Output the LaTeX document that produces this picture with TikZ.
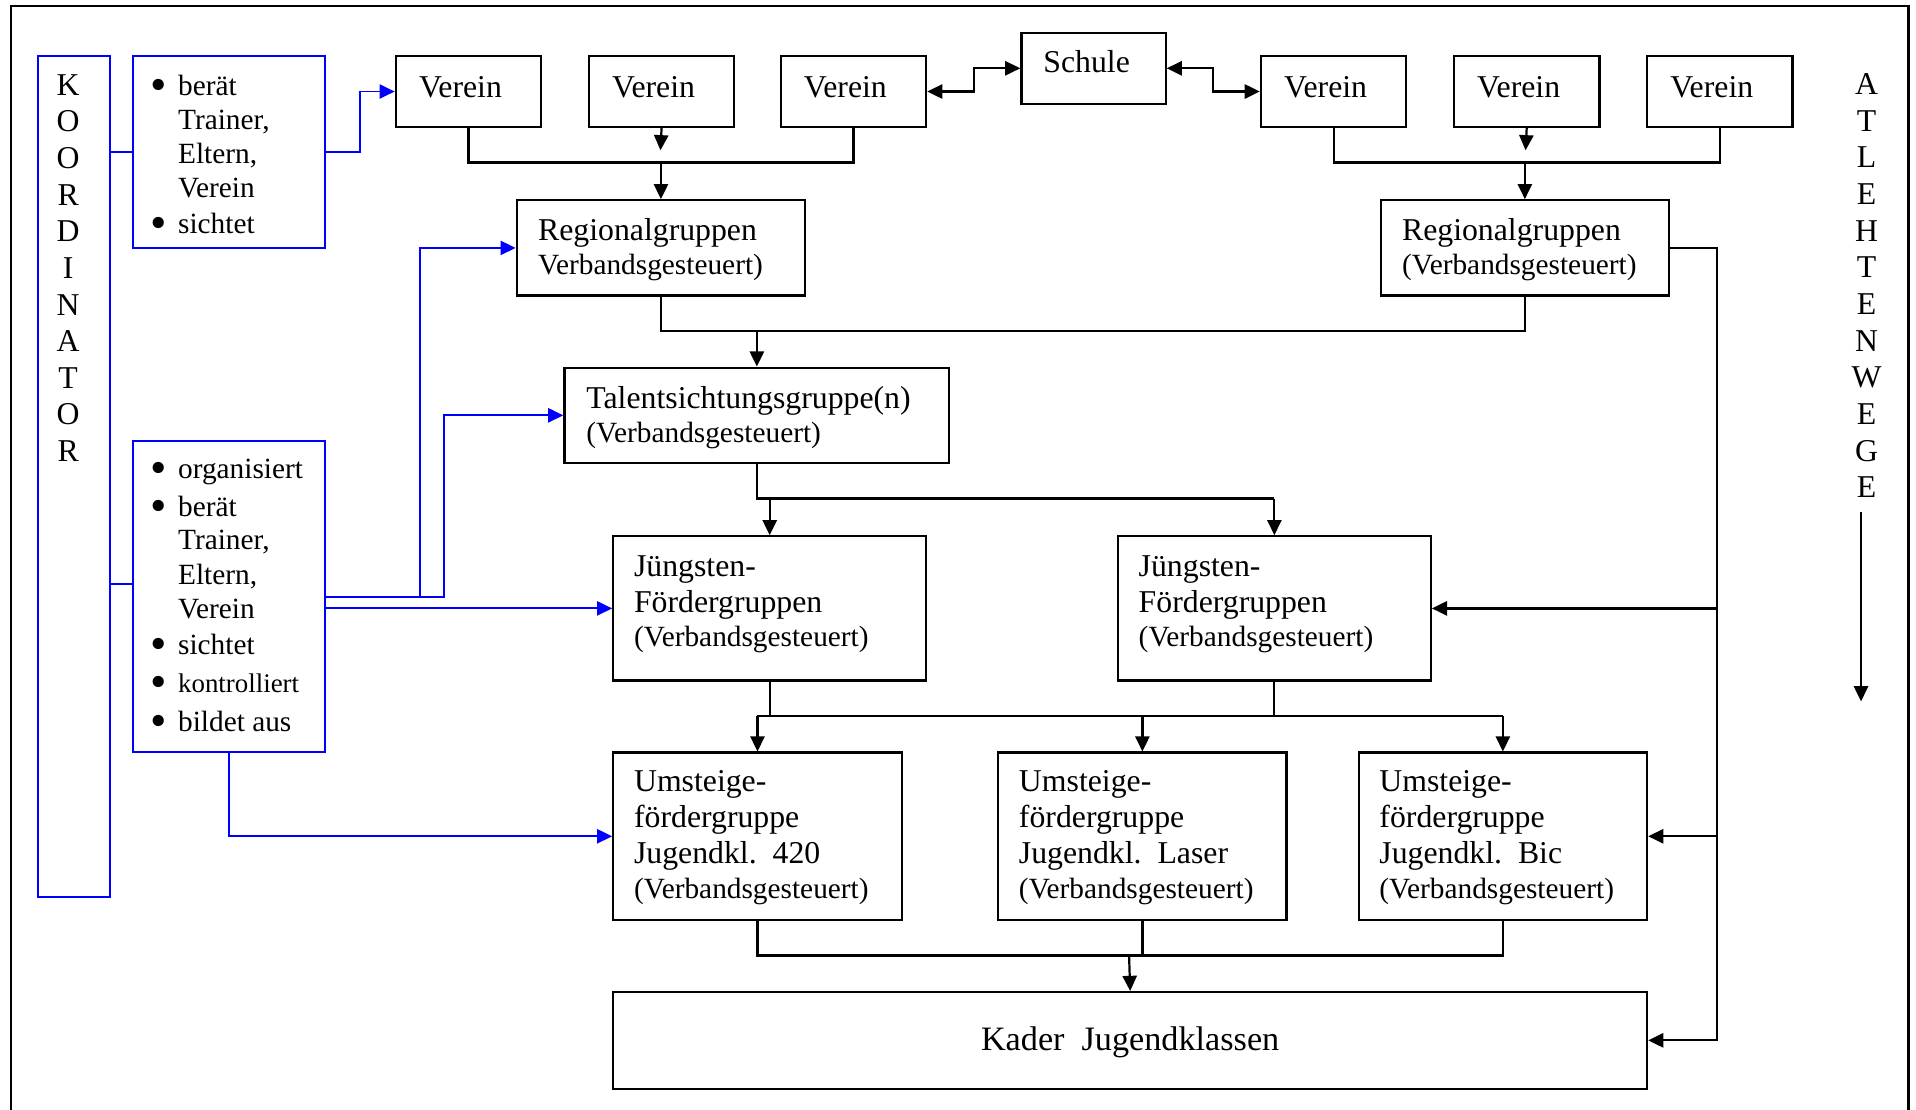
\documentclass[tikz,border=0pt]{standalone}
\usepackage{fontspec}
\setmainfont{Liberation Serif}
\usetikzlibrary{arrows.meta,calc}

\newcommand\bxt[5]{\parbox[c][#2][t]{#1}{\raggedright\leftskip=#3\relax\rule{0pt}{#4}#5}}
\newcommand\fmain{\fontsize{13}{14}\selectfont}
\newcommand\fsub{\fontsize{12}{14}\selectfont}
\newcommand\bul{\leavevmode\llap{\raisebox{-2.1pt}{\scalebox{1.6}{\fontsize{12}{14}\selectfont\textbullet}}\hspace{4.6pt}}}

\tikzset{
  box/.style={draw=black, line width=0.9pt, inner sep=0pt, anchor=north west, font=\fmain},
  bbox/.style={box, draw=blue, line width=0.8pt},
  conn/.style={draw=black, line width=0.9pt},
  arr/.style={conn, -{Triangle[length=6.2pt,width=5.8pt]}},
  darr/.style={conn, {Triangle[length=6.2pt,width=5.8pt]}-{Triangle[length=6.2pt,width=5.8pt]}},
  bconn/.style={draw=blue, line width=0.8pt},
  barr/.style={bconn, -{Triangle[length=6.2pt,width=5.8pt]}},
}

\begin{document}
\begin{tikzpicture}[x=0.5pt, y=-0.5pt]
\useasboundingbox (0,0) rectangle (1568,908);
\draw[line width=1pt] (9,920) -- (9,5) -- (1562,5) -- (1562,920);

% left blue boxes
\node[bbox] (koord) at (30,45) {\parbox[c][344pt][t]{29.5pt}{\centering\rightskip=4.5pt plus 1fil\relax\fontsize{13}{15}\selectfont\rule{0pt}{16pt}K\\O\\O\\R\\D\\I\\N\\A\\T\\O\\R}};
\node[bbox] (b1) at (108,45) {\bxt{78.5pt}{78.5pt}{18.5pt}{16pt}{\fontsize{12}{14}\selectfont\bul berät\\ Trainer,\\ Eltern,\\ Verein\\[0.5pt] \bul sichtet}};
\node[bbox] (b2) at (108,360) {\bxt{78.5pt}{127.5pt}{18.5pt}{15.5pt}{\fontsize{12}{13.75}\selectfont\bul organisiert\\[1.5pt] \bul berät\\ Trainer,\\[0.5pt] Eltern,\\ Verein\\[1pt] \bul sichtet\\[2pt] \bul{\fontsize{11}{13.75}\selectfont kontrolliert}\\[2pt] \bul bildet aus}};

% top row
\node[box] (v1) at (323,45) {\bxt{59.5pt}{29pt}{9.5pt}{16.8pt}{Verein}};
\node[box] (v2) at (481,45) {\bxt{59.5pt}{29pt}{9.5pt}{16.8pt}{Verein}};
\node[box] (v3) at (638,45) {\bxt{59.5pt}{29pt}{9.5pt}{16.8pt}{Verein}};
\node[box] (schule) at (835,26) {\bxt{59pt}{29pt}{9pt}{16.4pt}{Schule}};
\node[box] (v4) at (1031,45) {\bxt{59.5pt}{29pt}{9.5pt}{16.8pt}{Verein}};
\node[box] (v5) at (1189,45) {\bxt{59.5pt}{29pt}{9.5pt}{16.8pt}{Verein}};
\node[box] (v6) at (1347,45) {\bxt{59.5pt}{29pt}{9.5pt}{16.8pt}{Verein}};

% regional
\node[box] (r1) at (422,163) {\bxt{118pt}{39pt}{8.75pt}{16.5pt}{Regionalgruppen\\ {\fsub Verbandsgesteuert)}}};
\node[box] (r2) at (1129,163) {\bxt{118pt}{39pt}{8.75pt}{16.5pt}{Regionalgruppen\\ {\fsub (Verbandsgesteuert)}}};

% talent
\node[box] (talent) at (461,300) {\bxt{157.5pt}{39pt}{9pt}{16.5pt}{Talentsichtungsgruppe(n)\\ {\fsub (Verbandsgesteuert)}}};

% juengsten
\node[box] (j1) at (501,438) {\bxt{128pt}{59pt}{8.5pt}{16.25pt}{Jüngsten-\\[1pt] Fördergruppen\\ {\fsub (Verbandsgesteuert)}}};
\node[box] (j2) at (914,438) {\bxt{128pt}{59pt}{8.5pt}{16.25pt}{Jüngsten-\\[1pt] Fördergruppen\\ {\fsub (Verbandsgesteuert)}}};

% umsteige
\node[box] (u1) at (501,615) {\bxt{118pt}{68.5pt}{8.5pt}{16pt}{Umsteige-\\[0.5pt] fördergruppe\\[1pt] Jugendkl.\ \ 420\\ {\fsub (Verbandsgesteuert)}}};
\node[box] (u2) at (816,615) {\bxt{118pt}{68.5pt}{8.5pt}{16pt}{Umsteige-\\[0.5pt] fördergruppe\\[1pt] Jugendkl.\ \ Laser\\ {\fsub (Verbandsgesteuert)}}};
\node[box] (u3) at (1111,615) {\bxt{118pt}{68.5pt}{8.5pt}{16pt}{Umsteige-\\[0.5pt] fördergruppe\\[1pt] Jugendkl.\ \ Bic\\ {\fsub (Verbandsgesteuert)}}};

% kader
\node[box] (kader) at (501,811) {\parbox[c][39.5pt][t]{423pt}{\centering\fontsize{14}{16}\selectfont\rule{0pt}{24pt}Kader\ \ Jugendklassen}};

% right vertical text
\node[inner sep=0pt, anchor=north, font=\fmain] (athl) at (1527.5,45) {\parbox[t]{20pt}{\centering\fontsize{13}{15}\selectfont\rule{0pt}{16pt}A\\T\\L\\E\\H\\T\\E\\N\\W\\E\\G\\E}};
\coordinate (aw) at (1523,574);
\draw[arr] ([yshift=-5.5pt]athl.south -| aw) -- (aw);

% black connectors
\coordinate (busA) at (540.5,133);
\draw[conn] (v1.south) |- (busA) -| (v3.south);
\draw[arr] (v2.south) -- ($(busA)+(0,-10)$);
\draw[arr] (r1.north |- busA) -- (r1.north);

\coordinate (busB) at (1248.5,133);
\draw[conn] (v4.south) |- (busB) -| (v6.south);
\draw[arr] (v5.south) -- ($(busB)+(0,-10)$);
\draw[arr] (r2.north |- busB) -- (r2.north);

\draw[darr] (v3.east) -| ($(v3.east)!0.5!(schule.west)$) |- (schule.west);
\draw[darr] (schule.east) -| ($(schule.east)!0.5!(v4.west)$) |- (v4.west);

\coordinate (busC) at (618.5,271);
\draw[conn] (r1.south) |- (busC) -| (r2.south);
\draw[arr] (talent.north |- busC) -- (talent.north);

\coordinate (busD) at (0,408);
\draw[conn] (talent.south) |- (j2.north |- busD);
\draw[arr] (j1.north |- busD) -- (j1.north);
\draw[arr] (j2.north |- busD) -- (j2.north);

\coordinate (busE) at (0,586);
\draw[conn] (j1.south) -- (j1.south |- busE);
\draw[conn] (j2.south) -- (j2.south |- busE);
\draw[conn] (u1.north |- busE) -- (u3.north |- busE);
\draw[arr] (u1.north |- busE) -- (u1.north);
\draw[arr] (u2.north |- busE) -- (u2.north);
\draw[arr] (u3.north |- busE) -- (u3.north);

\coordinate (busF) at (924,782);
\draw[conn] (u1.south) |- (busF) -| (u3.south);
\draw[conn] (u2.south) -- (u2.south |- busF);
\draw[arr] (busF) -- (kader.north);

\coordinate (rt) at (1405,0);
\draw[arr] (r2.east) -| (rt |- kader.east) -- (kader.east);
\draw[arr] (rt |- j2.east) -- (j2.east);
\draw[arr] (rt |- u3.east) -- (u3.east);

% blue connectors
\coordinate (ca) at (344,0);
\coordinate (cb) at (363,0);
\coordinate (kb) at (0,478);
\draw[bconn] (koord.east |- b1.west) -- (b1.west);
\draw[bconn] (koord.east |- kb) -- (b2.west |- kb);
\draw[barr] (b1.east) -| ($(b1.east)!0.5!(v1.west)$) |- (v1.west);
\draw[barr] (b2.east) -| (ca |- r1.west) -- (r1.west);
\draw[barr] (b2.east) -| (cb |- talent.west) -- (talent.west);
\draw[barr] (b2.east |- j1.west) -- (j1.west);
\draw[barr] (b2.south) |- (u1.west);
\end{tikzpicture}
\end{document}
